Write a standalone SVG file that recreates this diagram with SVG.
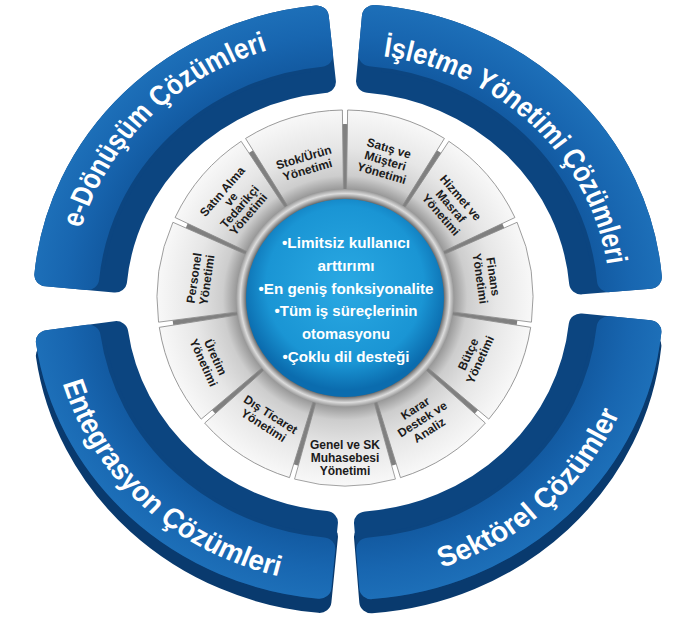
<svg xmlns="http://www.w3.org/2000/svg" width="679" height="627" viewBox="0 0 679 627">
<defs>
<style>
.face{fill:url(#faceGrad);stroke:url(#faceGrad);stroke-width:24;stroke-linejoin:round}
.dark{fill:#0c4580;stroke:#0c4580;stroke-width:24;stroke-linejoin:round}
.ext{fill:#093a6e;stroke:#093a6e;stroke-width:24;stroke-linejoin:round}
.arcText{font-family:"Liberation Sans",Arial,sans-serif;font-weight:bold;font-size:30px;fill:#ffffff}
.seg{fill:url(#segGrad);stroke:#8c8c8c;stroke-width:0.8}
.segText{font-family:"Liberation Sans",Arial,sans-serif;font-weight:bold;font-size:12px;fill:#1b1b1b;text-anchor:middle}
.ctr{font-family:"Liberation Sans",Arial,sans-serif;font-weight:bold;font-size:15px;fill:#ffffff;text-anchor:middle}
</style>
<radialGradient id="faceGrad" gradientUnits="userSpaceOnUse" cx="0" cy="0" r="315">
<stop offset="0.78" stop-color="#1259a0"/>
<stop offset="0.9" stop-color="#1866b0"/>
<stop offset="1" stop-color="#1d6fb8"/>
</radialGradient>
<radialGradient id="segGrad" gradientUnits="userSpaceOnUse" cx="345" cy="298" r="188">
<stop offset="0.58" stop-color="#9a9a9a"/>
<stop offset="0.65" stop-color="#cdcdcd"/>
<stop offset="0.8" stop-color="#e6e6e6"/>
<stop offset="1" stop-color="#f8f8f8"/>
</radialGradient>
<radialGradient id="ringGrad" gradientUnits="userSpaceOnUse" cx="345" cy="298" r="110">
<stop offset="0.88" stop-color="#3e3e3e"/>
<stop offset="0.92" stop-color="#9b9b9b"/>
<stop offset="0.95" stop-color="#dcdcdc"/>
<stop offset="1" stop-color="#8a8a8a"/>
</radialGradient>
<radialGradient id="blueGrad" gradientUnits="userSpaceOnUse" cx="345" cy="285" r="105">
<stop offset="0" stop-color="#2aa9e3"/>
<stop offset="0.75" stop-color="#1a95d4"/>
<stop offset="1" stop-color="#0b6cae"/>
</radialGradient>
<path id="seg" d="M294.55,116.89 A188,188 0 0 1 395.45,116.89 L373.98,193.96 A108,108 0 0 0 316.02,193.96 Z"/>
<path id="tpTL" d="M-278,1.21 A278,278 0 0 1 -1.21,-278"/>
<path id="tpTR" d="M-2.06,-262 A262,262 0 0 1 262,-2.06"/>
<path id="tpBL" d="M-297.88,8.58 A298,298 0 0 0 8.58,297.88"/>
<path id="tpBR" d="M-12.91,295.72 A296,296 0 0 0 295.72,12.91"/>
</defs>

<g id="arc-e-donusum" transform="translate(348,302) scale(1,0.946)">
<path class="dark" d="M-301.65,-28.57 A303,303 0 0 1 -31.2,-301.39 L-24.09,-232.76 A234,234 0 0 0 -232.96,-22.06 Z"/>
<path class="face" d="M-301.65,-28.57 A303,303 0 0 1 -31.2,-301.39 L-26.98,-260.61 A262,262 0 0 0 -260.83,-24.7 Z"/>
<text class="arcText"><textPath href="#tpTL" startOffset="50%" text-anchor="middle" textLength="276" lengthAdjust="spacingAndGlyphs">e-Dönüşüm Çözümleri</textPath></text>
</g>

<g id="arc-isletme" transform="translate(348,302) scale(1,0.946)">
<path class="dark" d="M25.93,-301.89 A303,303 0 0 1 301.89,-25.93 L233.14,-20.03 A234,234 0 0 0 20.03,-233.14 Z"/>
<path class="face" d="M25.93,-301.89 A303,303 0 0 1 301.89,-25.93 L261.04,-22.42 A262,262 0 0 0 22.42,-261.04 Z"/>
<text class="arcText"><textPath href="#tpTR" startOffset="50%" text-anchor="middle" textLength="337" lengthAdjust="spacingAndGlyphs">İşletme Yönetimi Çözümleri</textPath></text>
</g>

<g id="arc-sektorel" transform="translate(348,302) scale(1,0.946)">
<path class="ext" transform="translate(0,15)" d="M301.39,31.2 A303,303 0 0 1 23.3,302.1 L17.99,233.31 A234,234 0 0 0 232.76,24.09 Z"/>
<path class="dark" d="M301.39,31.2 A303,303 0 0 1 23.3,302.1 L17.99,233.31 A234,234 0 0 0 232.76,24.09 Z"/>
<path class="face" d="M301.39,31.2 A303,303 0 0 1 23.3,302.1 L20.15,261.22 A262,262 0 0 0 260.61,26.98 Z"/>
<text class="arcText"><textPath href="#tpBR" startOffset="50%" text-anchor="middle" textLength="248" lengthAdjust="spacingAndGlyphs">Sektörel Çözümler</textPath></text>
</g>

<g id="arc-entegrasyon" transform="translate(348,302) scale(1,0.946)">
<path class="ext" transform="translate(0,15)" d="M-28.57,301.65 A303,303 0 0 1 -300.12,41.7 L-231.77,32.2 A234,234 0 0 0 -22.06,232.96 Z"/>
<path class="dark" d="M-28.57,301.65 A303,303 0 0 1 -300.12,41.7 L-231.77,32.2 A234,234 0 0 0 -22.06,232.96 Z"/>
<path class="face" d="M-28.57,301.65 A303,303 0 0 1 -300.12,41.7 L-259.51,36.06 A262,262 0 0 0 -24.7,260.83 Z"/>
<text class="arcText"><textPath href="#tpBL" startOffset="50%" text-anchor="middle" textLength="311" lengthAdjust="spacingAndGlyphs">Entegrasyon Çözümleri</textPath></text>
</g>

<g id="connectors"/>

<circle id="segment-base" cx="345" cy="298" r="174" fill="#808080"/>

<g id="seg-satis">
<use href="#seg" class="seg" transform="rotate(16.364 345 298)"/>
<text class="segText" transform="translate(385.3,160.8) rotate(16.4)"><tspan x="0" y="-9">Satış ve</tspan><tspan x="0" y="4">Müşteri</tspan><tspan x="0" y="17">Yönetimi</tspan></text>
</g>
<g id="seg-hizmet">
<use href="#seg" class="seg" transform="rotate(49.091 345 298)"/>
<text class="segText" transform="translate(450.8,206.3) rotate(49.1)"><tspan x="0" y="-9">Hizmet ve</tspan><tspan x="0" y="4">Masraf</tspan><tspan x="0" y="17">Yönetimi</tspan></text>
</g>
<g id="seg-finans">
<use href="#seg" class="seg" transform="rotate(81.818 345 298)"/>
<text class="segText" transform="translate(486.6,277.6) rotate(81.8)"><tspan x="0" y="-2.5">Finans</tspan><tspan x="0" y="10.5">Yönetimi</tspan></text>
</g>
<g id="seg-butce">
<use href="#seg" class="seg" transform="rotate(114.545 345 298)"/>
<text class="segText" transform="translate(474.2,357) rotate(-65.5)"><tspan x="0" y="-2.5">Bütçe</tspan><tspan x="0" y="10.5">Yönetimi</tspan></text>
</g>
<g id="seg-karar">
<use href="#seg" class="seg" transform="rotate(147.273 345 298)"/>
<text class="segText" transform="translate(422.3,419.3) rotate(-32.7)"><tspan x="0" y="-9">Karar</tspan><tspan x="0" y="4">Destek ve</tspan><tspan x="0" y="17">Analiz</tspan></text>
</g>
<g id="seg-genel">
<use href="#seg" class="seg" transform="rotate(180 345 298)"/>
<text class="segText" transform="translate(345,458)"><tspan x="0" y="-9">Genel ve SK</tspan><tspan x="0" y="4">Muhasebesi</tspan><tspan x="0" y="17">Yönetimi</tspan></text>
</g>
<g id="seg-dis-ticaret">
<use href="#seg" class="seg" transform="rotate(212.727 345 298)"/>
<text class="segText" transform="translate(267.1,420.1) rotate(32.7)"><tspan x="0" y="-2.5">Dış Ticaret</tspan><tspan x="0" y="10.5">Yönetimi</tspan></text>
</g>
<g id="seg-uretim">
<use href="#seg" class="seg" transform="rotate(245.455 345 298)"/>
<text class="segText" transform="translate(209.4,360) rotate(65.5)"><tspan x="0" y="-2.5">Üretim</tspan><tspan x="0" y="10.5">Yönetimi</tspan></text>
</g>
<g id="seg-personel">
<use href="#seg" class="seg" transform="rotate(278.182 345 298)"/>
<text class="segText" transform="translate(200.5,279) rotate(-81.8)"><tspan x="0" y="-2.5">Personel</tspan><tspan x="0" y="10.5">Yönetimi</tspan></text>
</g>
<g id="seg-satin-alma">
<use href="#seg" class="seg" transform="rotate(310.909 345 298)"/>
<text class="segText" transform="translate(235.4,203) rotate(-49.1)"><tspan x="0" y="-13.25">Satın Alma</tspan><tspan x="0" y="-1.75">ve</tspan><tspan x="0" y="9.75">Tedarikçi</tspan><tspan x="0" y="21.25">Yönetimi</tspan></text>
</g>
<g id="seg-stok">
<use href="#seg" class="seg" transform="rotate(343.636 345 298)"/>
<text class="segText" transform="translate(305.6,163.7) rotate(-16.4)"><tspan x="0" y="-2.5">Stok/Ürün</tspan><tspan x="0" y="10.5">Yönetimi</tspan></text>
</g>

<g id="center">
<circle cx="345" cy="298" r="109" fill="url(#ringGrad)"/>
<circle cx="345" cy="298" r="99" fill="url(#blueGrad)"/>
<text class="ctr" x="346" y="248" textLength="128" lengthAdjust="spacingAndGlyphs">•Limitsiz kullanıcı</text>
<text class="ctr" x="346" y="271" textLength="57" lengthAdjust="spacingAndGlyphs">arttırımı</text>
<text class="ctr" x="346" y="293.5" textLength="175" lengthAdjust="spacingAndGlyphs">•En geniş fonksiyonalite</text>
<text class="ctr" x="346" y="316" textLength="143" lengthAdjust="spacingAndGlyphs">•Tüm iş süreçlerinin</text>
<text class="ctr" x="346" y="339" textLength="88" lengthAdjust="spacingAndGlyphs">otomasyonu</text>
<text class="ctr" x="346" y="362" textLength="127" lengthAdjust="spacingAndGlyphs">•Çoklu dil desteği</text>
</g>
</svg>
